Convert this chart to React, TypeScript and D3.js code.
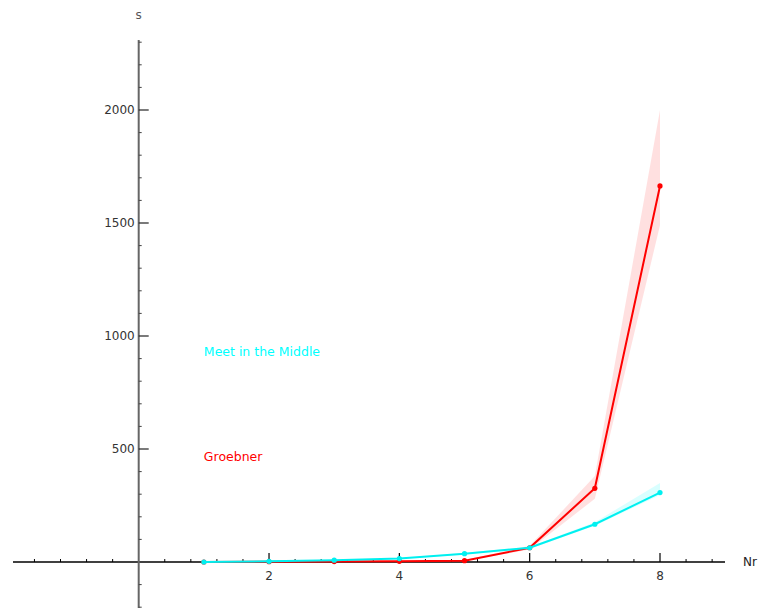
import * as d3 from 'd3';

const nr = [1, 2, 3, 4, 5, 6, 7, 8];

const groebner = [0, 1, 2, 3, 6, 63, 326, 1664];
const groebnerLow = [0, 0, 1, 2, 4, 55, 280, 1490];
const groebnerHigh = [1, 2, 3, 4, 9, 72, 380, 2000];

const meet = [0, 3, 8, 15, 37, 63, 167, 307];
const meetLow = [0, 2, 6, 13, 33, 58, 160, 297];
const meetHigh = [1, 4, 10, 17, 41, 68, 176, 350];

const xMajor = [2, 4, 6, 8];
const yMajor = [500, 1000, 1500, 2000];

const W = 759;
const H = 608;

const App = () => {
  const x = d3.scaleLinear().domain([0, 8]).range([138.7, 660]);
  const y = d3.scaleLinear().domain([0, 2000]).range([562, 110]);

  const xMin = x.invert(13);
  const xMax = x.invert(725);
  const yTop = y.invert(40);
  const yBot = y.invert(H);

  const xMinor: number[] = [];
  for (let i = -20; i <= 45; i++) {
    const v = i * 0.4;
    if (i % 5 === 0) continue;
    if (v >= xMin && v <= xMax) xMinor.push(v);
  }
  const yMinor: number[] = [];
  for (let v = -200; v <= 2300; v += 100) {
    if (v % 500 === 0) continue;
    yMinor.push(v);
  }

  const line = d3.line<number>().x((_, i) => x(nr[i])).y(d => y(d));
  const band = (lo: number[], hi: number[]) =>
    d3.area<number>()
      .x((_, i) => x(nr[i]))
      .y0((_, i) => y(lo[i]))
      .y1((_, i) => y(hi[i]))(nr) || '';

  const font = 'DejaVu Sans, sans-serif';

  const series = [
    { vals: groebner, lo: groebnerLow, hi: groebnerHigh, color: '#ff0000', fill: 'rgba(255,0,0,0.12)' },
    { vals: meet, lo: meetLow, hi: meetHigh, color: '#00f0f0', fill: 'rgba(0,255,255,0.15)' },
  ];

  return (
    <svg width={W} height={H} style={{ position: 'absolute', left: 0, top: 0, background: '#fff' }}>
      {series.map((s, k) => (
        <path key={'b' + k} d={band(s.lo, s.hi)} fill={s.fill} stroke="none" />
      ))}

      {/* x axis */}
      <line x1={13} x2={725} y1={y(0)} y2={y(0)} stroke="#000" strokeWidth={1.3} />
      {xMinor.map(v => (
        <line key={'xm' + v} x1={x(v)} x2={x(v)} y1={y(0)} y2={y(0) - 3} stroke="#000" strokeWidth={1} />
      ))}
      {xMajor.map(v => (
        <g key={'xM' + v}>
          <line x1={x(v)} x2={x(v)} y1={y(0)} y2={y(0) - 9} stroke="#000" strokeWidth={1.2} />
          <text x={x(v)} y={y(0) + 18} textAnchor="middle" fontFamily={font} fontSize={12} fill="#333">{v}</text>
        </g>
      ))}
      <text x={743} y={y(0) + 4} fontFamily={font} fontSize={12} fill="#222">Nr</text>

      {/* y axis */}
      <line x1={x(0)} x2={x(0)} y1={40} y2={H} stroke="#666" strokeWidth={2} />
      {yMinor.map(v => (
        <line key={'ym' + v} x1={x(0)} x2={x(0) + 3} y1={y(v)} y2={y(v)} stroke="#444" strokeWidth={1} />
      ))}
      {yMajor.map(v => (
        <g key={'yM' + v}>
          <line x1={x(0)} x2={x(0) + 10} y1={y(v)} y2={y(v)} stroke="#222" strokeWidth={1.2} />
          <text x={x(0) - 4} y={y(v) + 4} textAnchor="end" fontFamily={font} fontSize={12} fill="#333">{v}</text>
        </g>
      ))}
      <text x={x(0)} y={19} textAnchor="middle" fontFamily={font} fontSize={12} fill="#555">s</text>

      {series.map((s, k) => (
        <g key={'s' + k}>
          <path d={line(s.vals) || ''} fill="none" stroke={s.color} strokeWidth={2} />
          {s.vals.map((v, i) => (
            <circle key={i} cx={x(nr[i])} cy={y(v)} r={2.6} fill={s.color} />
          ))}
        </g>
      ))}

      <text x={x(1)} y={y(930) + 4} fontFamily={font} fontSize={12.5} fill="#00ffff">Meet in the Middle</text>
      <text x={x(1)} y={y(465) + 4} fontFamily={font} fontSize={12.5} fill="#ff0000">Groebner</text>
    </svg>
  );
};

export default App;
